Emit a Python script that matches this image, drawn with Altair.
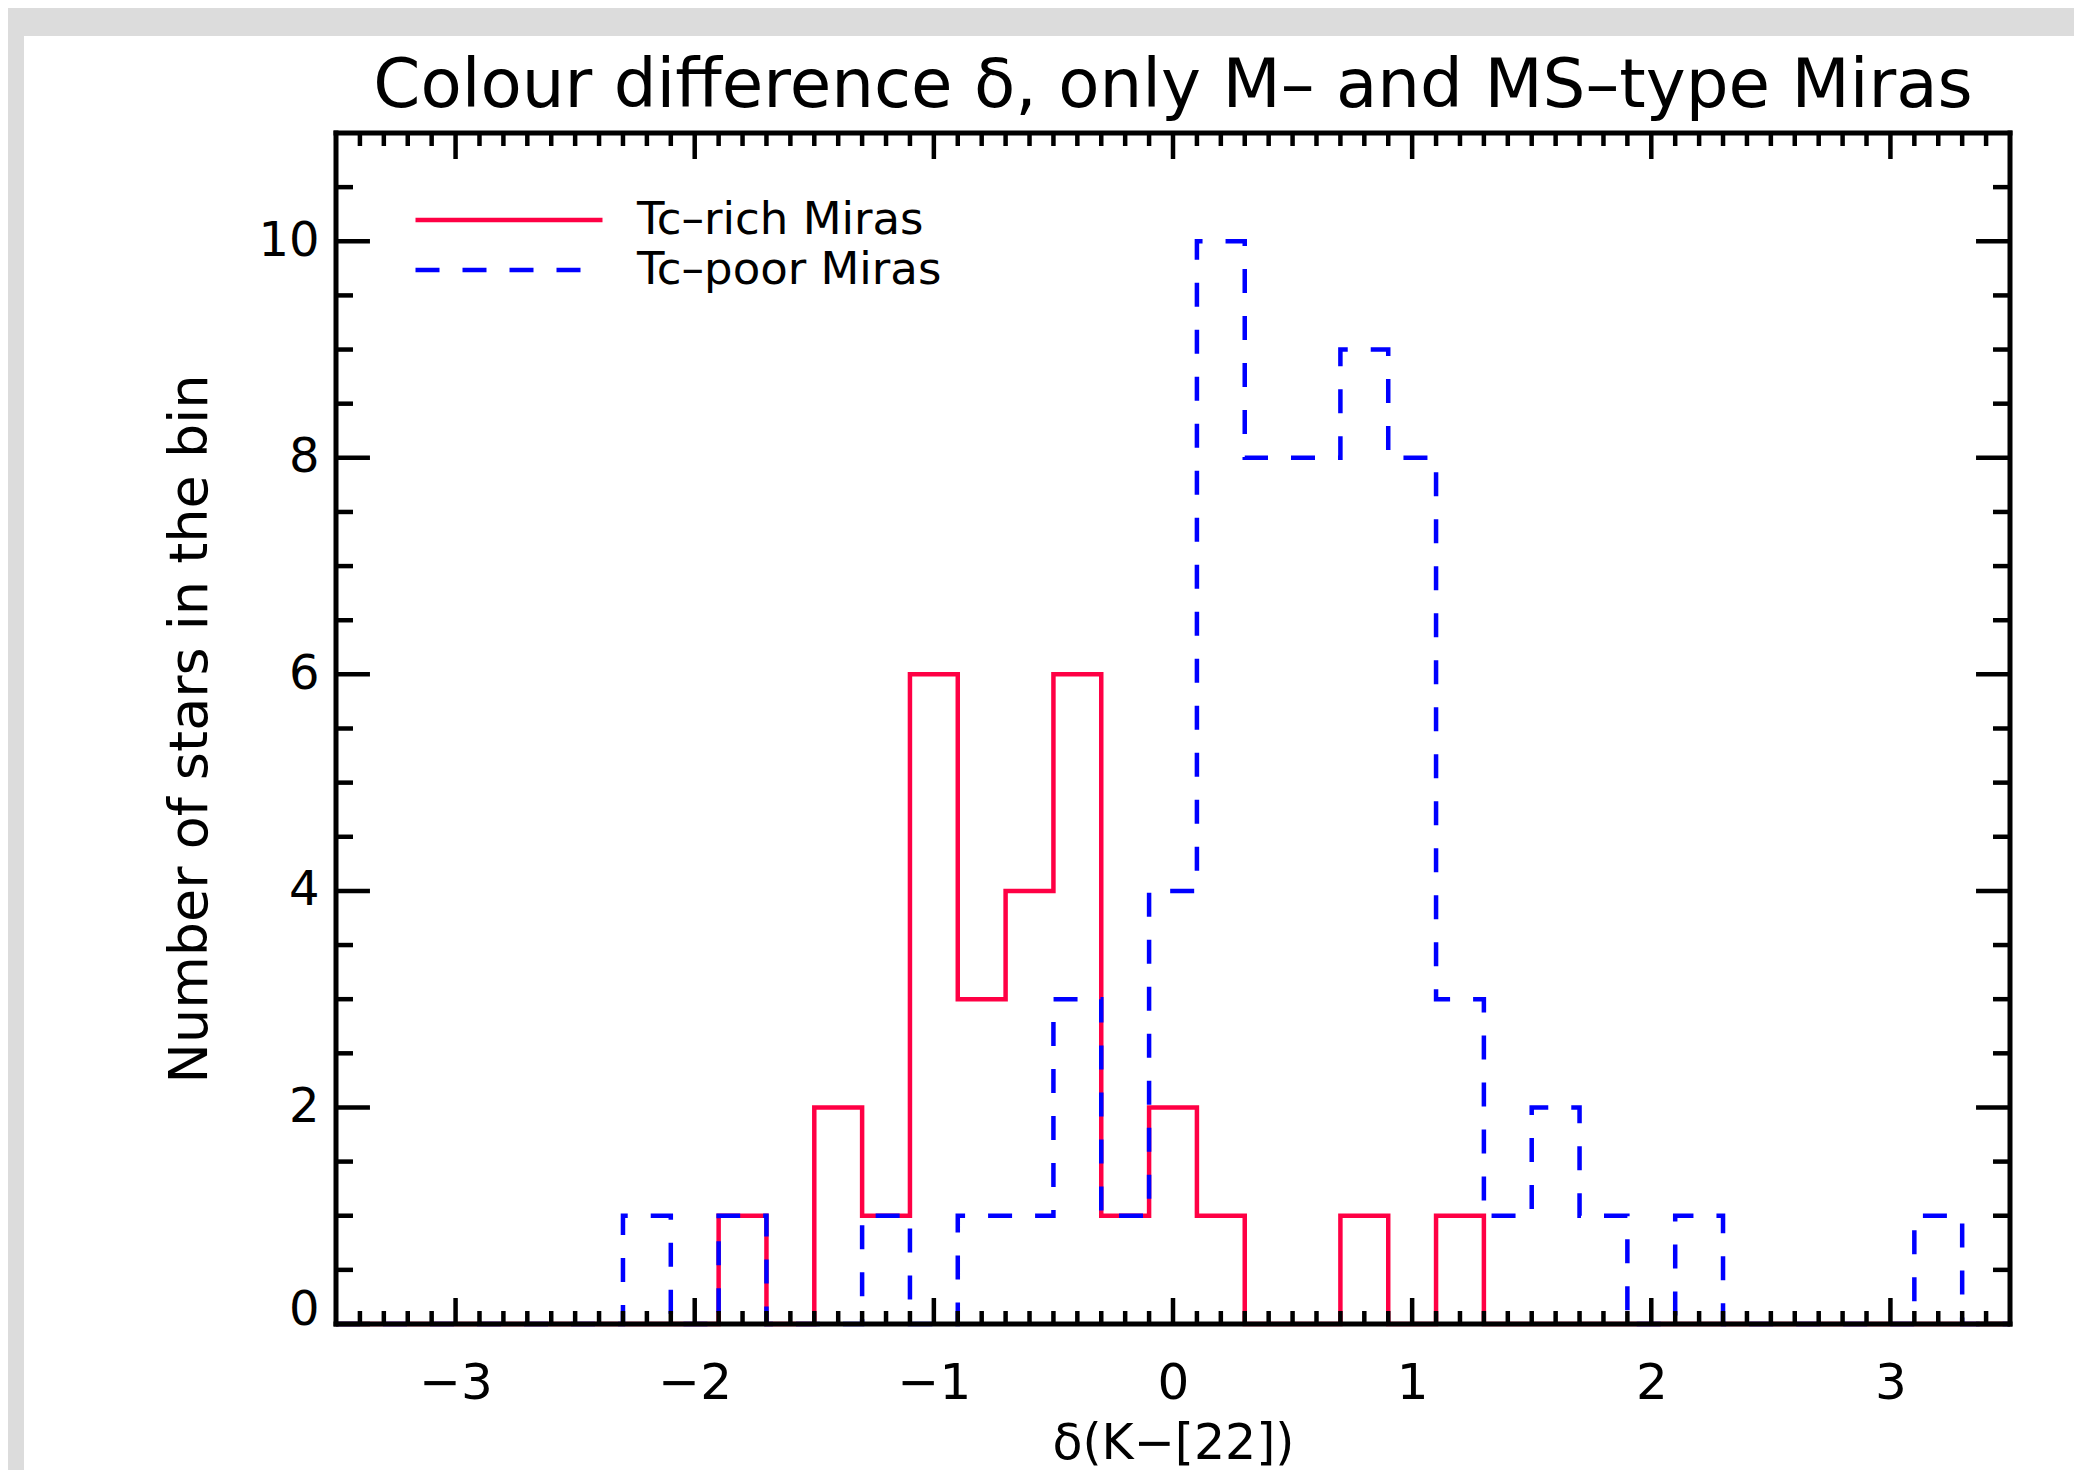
import altair as alt
import pandas as pd

# ---- data ----
series_names = ["Tc–rich Miras", "Tc–poor Miras"]

bin_left = [-3.5, -3.3, -3.1, -2.9, -2.7, -2.5, -2.3, -2.1, -1.9, -1.7,
            -1.5, -1.3, -1.1, -0.9, -0.7, -0.5, -0.3, -0.1, 0.1, 0.3,
            0.5, 0.7, 0.9, 1.1, 1.3, 1.5, 1.7, 1.9, 2.1, 2.3,
            2.5, 2.7, 2.9, 3.1, 3.3]
bin_end = 3.5

counts_rich = [0, 0, 0, 0, 0, 0, 0, 0, 1, 0,
               2, 1, 6, 3, 4, 6, 1, 2, 1, 0,
               0, 1, 0, 1, 0, 0, 0, 0, 0, 0,
               0, 0, 0, 0, 0]
counts_poor = [0, 0, 0, 0, 0, 0, 1, 0, 1, 0,
               0, 1, 0, 1, 1, 3, 1, 4, 10, 8,
               8, 9, 8, 3, 1, 2, 1, 0, 1, 0,
               0, 0, 0, 1, 0]

x_domain = [-3.5, 3.5]
y_domain = [0, 11]
x_major = [-3, -2, -1, 0, 1, 2, 3]
x_minor = [v / 10 for v in range(-34, 35) if v % 10 != 0]
y_major = [0, 2, 4, 6, 8, 10]
y_minor = [k / 2 for k in range(1, 22) if k % 4 != 0]

title_text = "Colour difference δ, only M– and MS–type Miras"
x_title = "δ(K−[22])"
y_title = "Number of stars in the bin"

FONT = "DejaVu Sans"
RED = "#ff0044"
BLUE = "#0000ff"
W, H = 1674, 1191

# ---- tables ----
rows = []
for name, counts in zip(series_names, [counts_rich, counts_poor]):
    for e, c in zip(bin_left, counts):
        rows.append({"series": name, "edge": e, "count": c})
    rows.append({"series": name, "edge": bin_end, "count": counts[-1]})
hist = pd.DataFrame(rows)

# inward tick marks (lengths in data units)
xl_major, xl_minor = 0.24, 0.12     # vertical ticks (y units)
yl_major, yl_minor = 0.142, 0.071   # horizontal ticks (x units)
tick_rows = []
for vals, L in [(x_major, xl_major), (x_minor, xl_minor)]:
    for v in vals:
        tick_rows.append({"x": v, "x2": v, "y": y_domain[0], "y2": y_domain[0] + L})
        tick_rows.append({"x": v, "x2": v, "y": y_domain[1], "y2": y_domain[1] - L})
for vals, L in [(y_major, yl_major), (y_minor, yl_minor)]:
    for v in vals:
        tick_rows.append({"x": x_domain[0], "x2": x_domain[0] + L, "y": v, "y2": v})
        tick_rows.append({"x": x_domain[1], "x2": x_domain[1] - L, "y": v, "y2": v})
ticks = pd.DataFrame(tick_rows)

frame = pd.DataFrame([
    {"x": x_domain[0], "x2": x_domain[1], "y": y_domain[0], "y2": y_domain[0]},
    {"x": x_domain[0], "x2": x_domain[1], "y": y_domain[1], "y2": y_domain[1]},
    {"x": x_domain[0], "x2": x_domain[0], "y": y_domain[0], "y2": y_domain[1]},
    {"x": x_domain[1], "x2": x_domain[1], "y": y_domain[0], "y2": y_domain[1]},
])

# ---- scales / axes ----
xs = alt.Scale(domain=x_domain, nice=False, zero=False)
ys = alt.Scale(domain=y_domain, nice=False, zero=False)

x_axis = alt.Axis(values=x_major, format="d", title=x_title, domain=False, ticks=False,
                  tickSize=0, grid=False, labelFontSize=50, labelFont=FONT,
                  labelColor="black", labelPadding=34, labelFlush=False,
                  titleFont=FONT, titleFontSize=49, titleFontWeight="normal",
                  titleColor="black", titlePadding=11, zindex=1)
y_axis = alt.Axis(values=y_major, format="d", title=y_title, domain=False, ticks=False,
                  tickSize=0, grid=False, labelFontSize=48, labelFont=FONT,
                  labelColor="black", labelPadding=17, labelFlush=True,
                  labelFlushOffset=10,
                  titleFont=FONT, titleFontSize=54, titleFontWeight="normal",
                  titleColor="black", titlePadding=40, zindex=1)

legend_cfg = dict(orient="none", legendX=77, legendY=62, title=None,
                  symbolType="stroke", symbolSize=34969, symbolStrokeWidth=4.5,
                  clipHeight=50, labelFont=FONT, labelFontSize=45, labelColor="black",
                  labelOffset=32, labelLimit=0, rowPadding=0, padding=0)
color_enc = alt.Color("series:N", scale=alt.Scale(domain=series_names, range=[RED, BLUE]),
                      legend=alt.Legend(**legend_cfg))
dash_enc = alt.StrokeDash("series:N",
                          scale=alt.Scale(domain=series_names, range=[[1, 0], [24, 23]]),
                          legend=alt.Legend(**legend_cfg))

# white page panel behind the figure (decoration, not data)
panel = alt.Chart(pd.DataFrame({"p": [0]})).mark_rect(color="white", strokeWidth=0).encode(
    x=alt.value(-312), x2=alt.value(1738), y=alt.value(-97), y2=alt.value(1337))

def hist_layer(name):
    return alt.Chart(hist).transform_filter(alt.datum.series == name).mark_line(
        interpolate="step-after", strokeWidth=4.5, strokeCap="butt").encode(
        x=alt.X("edge:Q", scale=xs, axis=x_axis),
        y=alt.Y("count:Q", scale=ys, axis=y_axis),
        color=color_enc, strokeDash=dash_enc)

tick_layer = alt.Chart(ticks).mark_rule(color="black", strokeWidth=4.5, strokeCap="butt").encode(
    x=alt.X("x:Q", scale=xs, axis=x_axis), x2="x2:Q",
    y=alt.Y("y:Q", scale=ys, axis=y_axis), y2="y2:Q")

frame_layer = alt.Chart(frame).mark_rule(color="black", strokeWidth=5, strokeCap="square").encode(
    x=alt.X("x:Q", scale=xs, axis=x_axis), x2="x2:Q",
    y=alt.Y("y:Q", scale=ys, axis=y_axis), y2="y2:Q")

chart = alt.layer(
    panel, hist_layer(series_names[0]), hist_layer(series_names[1]), tick_layer, frame_layer
).properties(
    width=W, height=H,
    title=alt.TitleParams(title_text, font=FONT, fontSize=67.5, fontWeight="normal",
                          color="black", anchor="middle", frame="group", offset=-85),
    background="#dcdcdc",
    padding={"left": 16, "top": 28, "right": 0, "bottom": 0},
).configure_view(stroke=None)

chart.save("out.html", embed_options={"renderer": "svg", "actions": False})
